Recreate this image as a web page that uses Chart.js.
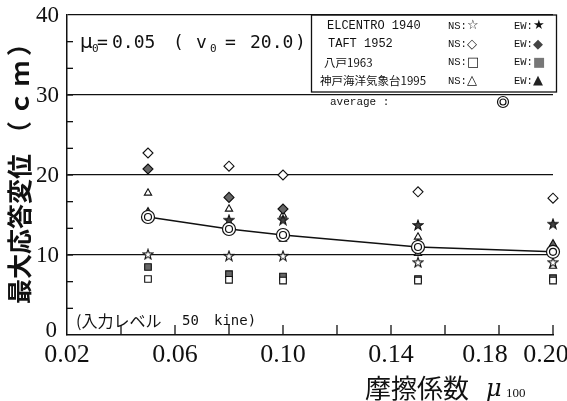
<!DOCTYPE html>
<html>
<head>
<meta charset="utf-8">
<script src="https://cdn.jsdelivr.net/npm/chart.js@4.4.0/dist/chart.umd.min.js"></script>
<style>
  html, body { margin: 0; background: #fff; }
  #wrap { width: 567px; height: 401px; position: relative; }
</style>
</head>
<body>
<div id="wrap"><canvas id="c"></canvas></div>
<script>
// friction coefficient mu100 (x) and max response displacement in cm (y)
const mu = [0.05, 0.08, 0.10, 0.15, 0.20];
const elcentroNS = [10.1, 9.9, 9.9, 9.1, 9.1];
const elcentroEW = [14.75, 14.4, 14.4, 13.75, 13.9];
const taftNS = [22.75, 21.1, 20.0, 17.9, 17.1];
const taftEW = [20.75, 17.2, 15.75, 11.3, 10.6];
const hachinoheNS = [7.0, 6.9, 6.8, 6.8, 6.8];
const hachinoheEW = [8.5, 7.6, 7.3, 7.0, 7.1];
const kobeNS = [17.75, 15.75, 15.0, 12.25, 8.6];
const kobeEW = [15.4, 13.2, 12.0, 10.2, 11.4];
const average = [14.75, 13.25, 12.5, 11.0, 10.4];

const xTickLabels = ['0.02', '0.06', '0.10', '0.14', '0.18', '0.20'];
const yTickLabels = ['0', '10', '20', '30', '40'];

const pts = arr => arr.map((v, i) => ({ x: mu[i], y: v }));

function starImage(filled) {
  const c = document.createElement('canvas');
  c.width = 12; c.height = 12;
  const g = c.getContext('2d');
  g.beginPath();
  for (let i = 0; i < 10; i++) {
    const r = i % 2 ? 2.1 : 5.2;
    const a = -Math.PI / 2 + i * Math.PI / 5;
    g.lineTo(6 + r * Math.cos(a), 6.5 + r * Math.sin(a));
  }
  g.closePath();
  g.fillStyle = filled ? '#444' : '#fff';
  g.fill();
  g.lineWidth = 1.1;
  g.strokeStyle = '#111';
  g.stroke();
  return c;
}

function marks(label, data, style, filled, radius) {
  return {
    label,
    data: pts(data),
    showLine: false,
    pointStyle: style,
    pointRadius: radius,
    pointBorderWidth: 1.1,
    pointBorderColor: '#111',
    pointBackgroundColor: filled ? '#666' : '#fff',
    clip: false
  };
}

const decor = {
  id: 'decor',
  afterDraw(chart) {
    const { ctx, chartArea: a, scales: { x, y } } = chart;
    ctx.save();
    ctx.strokeStyle = '#111';
    ctx.lineWidth = 1.3;
    // inward ticks
    for (let k = 1; k < 12; k++) {
      const py = y.getPixelForValue(k * 10 / 3);
      ctx.beginPath(); ctx.moveTo(a.left, py); ctx.lineTo(a.left + 6, py); ctx.stroke();
    }
    for (let k = 1; k <= 9; k++) {
      const px = x.getPixelForValue(0.02 + 0.02 * k);
      ctx.beginPath(); ctx.moveTo(px, a.bottom); ctx.lineTo(px, a.bottom - 10); ctx.stroke();
    }

    ctx.fillStyle = '#111';
    // x tick labels
    ctx.font = '26px "Liberation Serif"';
    ctx.textAlign = 'center';
    ctx.textBaseline = 'top';
    xTickLabels.forEach(t => {
      let px = x.getPixelForValue(parseFloat(t));
      if (t === '0.18') px -= 14;
      if (t === '0.20') px -= 7;
      ctx.fillText(t, px, a.bottom + 7);
    });
    // y tick labels
    ctx.font = '23px "Liberation Serif"';
    ctx.textAlign = 'right';
    ctx.textBaseline = 'middle';
    yTickLabels.forEach(t => {
      const v = parseFloat(t);
      const py = y.getPixelForValue(v) + (v === 0 ? -4 : 1);
      ctx.fillText(t, v === 0 ? a.left - 10 : a.left - 8, py);
    });

    // y title (rotated)
    ctx.save();
    ctx.translate(19, 165);
    ctx.rotate(-Math.PI / 2);
    ctx.font = 'bold 25px "Noto Sans CJK JP"';
    ctx.textAlign = 'left';
    ctx.textBaseline = 'middle';
    const t1 = '最大応答変位';
    const w1 = ctx.measureText(t1).width;
    ctx.letterSpacing = '5px';
    const t2 = '（ｃｍ）';
    const w2 = ctx.measureText(t2).width;
    const start = -(w1 + 8 + w2) / 2;
    ctx.letterSpacing = '0px';
    ctx.fillText(t1, start, 0);
    ctx.letterSpacing = '5px';
    ctx.fillText(t2, start + w1 + 8, 0);
    ctx.letterSpacing = '0px';
    ctx.restore();

    // x title
    ctx.textAlign = 'left';
    ctx.textBaseline = 'alphabetic';
    ctx.font = '26px "Noto Sans CJK JP"';
    ctx.fillText('摩擦係数', 365, 398);
    ctx.font = 'italic 24px "DejaVu Serif"';
    ctx.fillText('μ', 486, 396);
    ctx.font = '13px "Liberation Serif"';
    ctx.fillText('100', 506, 397);

    // condition annotation
    const base = 48;
    const big = '18px "DejaVu Sans Mono"';
    const sub = '11px "DejaVu Sans Mono"';
    const put = (s, px, f, dy) => { ctx.font = f; ctx.fillText(s, px, base + (dy || 0)); };
    put('μ', 80, '20px "DejaVu Sans"');
    put('0', 92, sub, 4);
    put('=', 97, big);
    put('0.05', 112, big);
    put('(', 173, big);
    put('v', 196, big);
    put('0', 210, sub, 4);
    put('=', 225, big);
    put('20.0', 250, big);
    put(')', 295, big);

    // input level note
    ctx.textBaseline = 'middle';
    ctx.font = '16px "Noto Sans CJK JP"';
    ctx.fillText('(入力レベル', 76, 321);
    ctx.font = '14px "DejaVu Sans Mono"';
    ctx.fillText('50', 182, 321);
    ctx.fillText('kine)', 214, 321);

    // legend box
    ctx.lineWidth = 1.3;
    ctx.strokeRect(311.5, a.top, 245, 77);
    const rows = [
      ['ELCENTRO 1940', '☆', '★', '#111', 327],
      ['TAFT 1952', '◇', '◆', '#444', 328],
      ['八戸1963', '□', '■', '#777', 324],
      ['神戸海洋気象台1995', '△', '▲', '#222', 320]
    ];
    rows.forEach((r, i) => {
      const ry = 26 + i * 18.3;
      ctx.fillStyle = '#111';
      ctx.font = /[^\x00-\x7f]/.test(r[0]) ? '11.5px "Noto Sans CJK JP"' : '12px "Liberation Mono"';
      ctx.fillText(r[0], r[4], ry);
      ctx.font = '10.5px "Liberation Mono"';
      ctx.fillText('NS:', 448, ry);
      ctx.fillText('EW:', 514, ry);
      ctx.font = '13px "DejaVu Sans"';
      ctx.fillText(r[1], 467, ry);
      ctx.fillStyle = r[3];
      ctx.fillText(r[2], 533, ry);
    });
    ctx.fillStyle = '#111';
    ctx.font = '11px "Liberation Mono"';
    ctx.fillText('average :', 330, 102);
    ctx.restore();
  }
};

const avgStyle = {
  showLine: false,
  pointStyle: 'circle',
  pointBorderColor: '#111',
  pointBackgroundColor: '#fff',
  pointBorderWidth: 1.2,
  clip: false
};

new Chart(document.getElementById('c'), {
  type: 'scatter',
  data: {
    datasets: [
      Object.assign({ label: 'avg-inner', data: pts(average), pointRadius: 3.5 }, avgStyle),
      Object.assign({}, avgStyle, {
        label: 'average', data: pts(average), pointRadius: 6.5,
        showLine: true, borderColor: '#111', borderWidth: 1.6
      }),
      marks('ELCENTRO 1940 NS', elcentroNS, starImage(false), false, 5),
      marks('ELCENTRO 1940 EW', elcentroEW, starImage(true), true, 5),
      marks('TAFT 1952 NS', taftNS, 'rectRot', false, 5),
      marks('TAFT 1952 EW', taftEW, 'rectRot', true, 5),
      marks('八戸1963 NS', hachinoheNS, 'rect', false, 4.7),
      marks('八戸1963 EW', hachinoheEW, 'rect', true, 4.7),
      marks('神戸海洋気象台1995 NS', kobeNS, 'triangle', false, 4.2),
      marks('神戸海洋気象台1995 EW', kobeEW, 'triangle', true, 4.2)
    ]
  },
  options: {
    responsive: true,
    maintainAspectRatio: false,
    animation: false,
    events: [],
    layout: { padding: { top: 15, right: 14, left: 0, bottom: 0 } },
    plugins: { legend: { display: false }, tooltip: { enabled: false } },
    scales: {
      x: {
        type: 'linear', min: 0.02, max: 0.20,
        ticks: { display: false },
        grid: { display: false },
        border: { display: true, color: '#111', width: 1.5 },
        afterFit: s => { s.height = 66; }
      },
      y: {
        min: 0, max: 40,
        afterBuildTicks: s => { s.ticks = [0, 10, 20, 30, 40].map(v => ({ value: v })); },
        ticks: { display: false },
        grid: {
          drawTicks: false,
          lineWidth: 1.3,
          color: c => (c.tick && c.tick.value > 0 ? '#111' : 'rgba(0,0,0,0)')
        },
        border: { display: true, color: '#111', width: 1.5 },
        afterFit: s => { s.width = 67; }
      }
    }
  },
  plugins: [decor, {
    id: 'avgKey',
    afterDraw(chart) {
      // legend key ◎ for the average row
      const { ctx } = chart;
      ctx.save();
      ctx.strokeStyle = '#111'; ctx.lineWidth = 1.2;
      ctx.beginPath(); ctx.arc(503, 102, 5.5, 0, Math.PI * 2); ctx.stroke();
      ctx.beginPath(); ctx.arc(503, 102, 3, 0, Math.PI * 2); ctx.stroke();
      ctx.restore();
    }
  }]
});
</script>
</body>
</html>
